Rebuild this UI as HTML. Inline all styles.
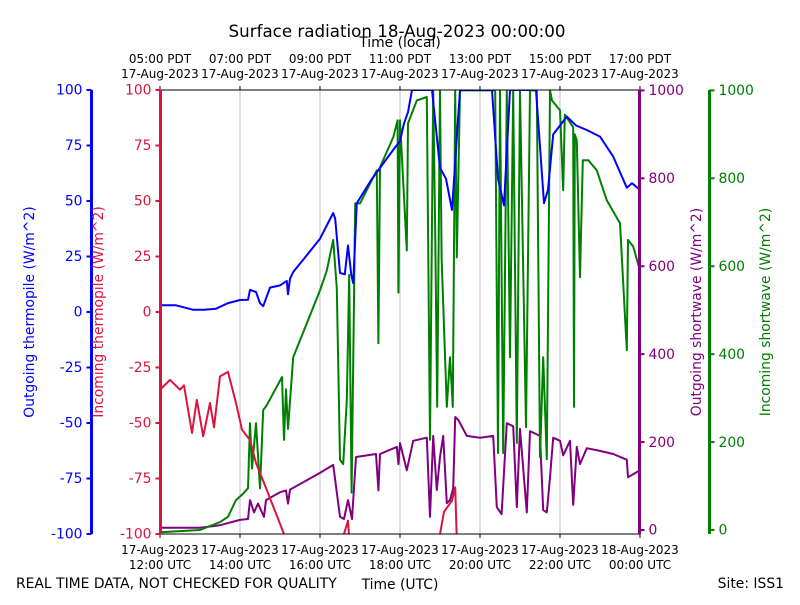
<!DOCTYPE html>
<html><head><meta charset="utf-8"><style>
body{margin:0;background:#fff}
svg text{font-family:"DejaVu Sans","Liberation Sans",sans-serif}
</style></head><body>
<svg id="chart" width="800" height="600" viewBox="0 0 800 600" xmlns="http://www.w3.org/2000/svg">
<defs><clipPath id="clip"><rect x="160" y="90" width="480" height="444"/></clipPath></defs>
<rect width="800" height="600" fill="#fff"/>
<g id="grid"></g>
<g id="series" clip-path="url(#clip)"></g>
<g id="axes"></g>
<text x="397" y="37" font-size="16.7" text-anchor="middle">Surface radiation 18-Aug-2023 00:00:00</text>
<text x="400" y="47" font-size="13.9" text-anchor="middle">Time (local)</text>
<text x="400" y="589" font-size="13.9" text-anchor="middle">Time (UTC)</text>
<text x="16" y="588" font-size="13.9">REAL TIME DATA, NOT CHECKED FOR QUALITY</text>
<text x="784" y="588" font-size="13.9" text-anchor="end">Site: ISS1</text>
</svg>
<script>
const utcTicks=[["17-Aug-2023","12:00 UTC"],["17-Aug-2023","14:00 UTC"],["17-Aug-2023","16:00 UTC"],["17-Aug-2023","18:00 UTC"],["17-Aug-2023","20:00 UTC"],["17-Aug-2023","22:00 UTC"],["18-Aug-2023","00:00 UTC"]];
const localTicks=[["05:00 PDT","17-Aug-2023"],["07:00 PDT","17-Aug-2023"],["09:00 PDT","17-Aug-2023"],["11:00 PDT","17-Aug-2023"],["13:00 PDT","17-Aug-2023"],["15:00 PDT","17-Aug-2023"],["17:00 PDT","17-Aug-2023"]];
const tickHours=[0,2,4,6,8,10,12];
const thermoTicks=[100,75,50,25,0,-25,-50,-75,-100];
const swTicks=[0,200,400,600,800,1000];

const blueT=[0,0.4,0.83,1.1,1.4,1.7,2,2.2,2.25,2.4,2.5,2.58,2.75,3.0,3.17,3.2,3.25,3.33,3.6,4.0,4.33,4.38,4.5,4.62,4.7,4.78,4.83,4.92,5.3,5.83,6,6.1,6.2,6.3,6.6,6.8,7.0,7.15,7.3,7.5,8.3,8.45,8.6,8.75,9.4,9.6,9.7,9.83,10.17,10.4,10.67,11,11.33,11.67,11.8,12];
const blueV=[3,3,1,1,1.5,4,5.4,5.5,10,9,4,2.6,11,12,14,8,15,18,24,33,44.6,42,17.6,17,30,17,13,49,60,73,77,85,90,100,100,100,65,60,46,100,100,60,48,100,100,49,55,80,88,84,82,79,70,56,58,55];

const redT=[0,0.25,0.5,0.6,0.8,0.92,1.08,1.25,1.35,1.5,1.7,1.9,2.05,2.25,2.4,2.6,3.1,3.2,4.5,4.6,4.7,4.8,6.9,7.0,7.1,7.3,7.38,7.45,12];
const redV=[-35,-30.6,-35,-33,-54.5,-39.6,-56,-41,-52,-29,-27,-41,-53,-57.7,-68,-77,-100,-120,-120,-100,-94,-120,-120,-100,-90,-85,-79,-120,-120];

const greenT=[0,1,1.5,1.7,1.9,2.05,2.2,2.25,2.3,2.4,2.5,2.58,2.67,3.05,3.1,3.15,3.2,3.33,4,4.17,4.33,4.42,4.5,4.58,4.67,4.73,4.79,4.88,5,5.42,5.46,5.5,5.83,5.94,5.96,6,6.17,6.2,6.42,6.67,6.75,6.83,6.88,6.93,7,7.04,7.17,7.25,7.32,7.38,7.42,7.5,8.38,8.45,8.5,8.58,8.67,8.75,8.83,8.92,9,9.15,9.25,9.42,9.5,9.58,9.67,9.75,9.8,10,10.08,10.12,10.33,10.35,10.37,10.42,10.5,10.57,10.71,10.92,11.17,11.5,11.67,11.7,11.83,12];
const greenV=[-5,0,18,30,68,80,95,243,140,243,95,273,284,348,205,320,230,393,545,590,660,550,160,150,295,580,85,743,743,818,425,825,893,932,540,932,636,925,977,985,205,1000,680,280,1000,620,280,393,280,1000,620,1000,1000,175,1000,175,1000,393,1000,198,1000,234,1000,1000,166,393,161,1000,977,955,773,945,916,280,900,886,575,841,841,818,750,698,409,660,645,590];

const purpleT=[0,1,1.5,2,2.2,2.25,2.35,2.45,2.6,2.65,3,3.15,3.2,3.25,4,4.33,4.5,4.6,4.7,4.8,4.9,5.4,5.46,5.5,5.92,5.96,6,6.17,6.33,6.67,6.75,6.83,6.92,7,7.08,7.17,7.25,7.33,7.38,7.46,7.67,8,8.33,8.42,8.54,8.67,8.83,8.92,9,9.17,9.25,9.5,9.58,9.67,9.75,9.83,10,10.08,10.25,10.33,10.42,10.5,10.67,11,11.33,11.67,11.7,12];
const purpleV=[5,5,11,23,25,68,40,60,30,68,86,90,60,92,130,148,30,25,68,25,166,173,90,173,189,150,198,136,203,210,30,214,91,166,214,61,68,95,257,250,214,210,214,52,36,243,236,52,230,40,225,214,45,40,120,210,203,170,203,57,189,150,186,180,173,160,120,136];

const X=t=>160+t*40;
const Yth=v=>90+(100-v)*2.22;
const Ysw=v=>534.4-(v+10)*(444/1010);
const NS="http://www.w3.org/2000/svg";
function mk(tag,attrs,parent){const e=document.createElementNS(NS,tag);for(const k in attrs)e.setAttribute(k,attrs[k]);parent.appendChild(e);return e;}
const grid=document.getElementById('grid'),series=document.getElementById('series'),axes=document.getElementById('axes');

tickHours.forEach((h,i)=>{
  if(i>0&&i<6){const g=mk('line',{x1:X(h),x2:X(h),y1:90,y2:534,stroke:'#b0b0b0','stroke-width':0.8},grid);
  
  }
  const tb=mk('line',{x1:X(h),x2:X(h),y1:534,y2:538,stroke:'#000'},axes);
  
  
  const tt=mk('line',{x1:X(h),x2:X(h),y1:86,y2:90,stroke:'#000'},axes);
  
  
  for(let r=0;r<2;r++){
    const b=mk('text',{x:X(h),y:554+r*15,'font-size':12,'text-anchor':'middle'},axes);b.textContent=utcTicks[i][r];
    
    
    const t=mk('text',{x:X(h),y:63+r*15,'font-size':12,'text-anchor':'middle'},axes);t.textContent=localTicks[i][r];
    
    
  }
});

function path(T,V,Y,color,name){
  let d='';T.forEach((t,i)=>{d+=(i?'L':'M')+X(t).toFixed(1)+','+Y(V[i]).toFixed(1);});
  const p=mk('path',{d:d,fill:'none',stroke:color,'stroke-width':2,'stroke-linejoin':'round'},series);
  
  
}
path(purpleT,purpleV,Ysw,'#800080','outgoing-shortwave-line');
path(greenT,greenV,Ysw,'#008000','incoming-shortwave-line');
path(redT,redV,Yth,'#dc143c','incoming-thermopile-line');
path(blueT,blueV,Yth,'#0000ff','outgoing-thermopile-line');

const ft=mk('line',{x1:160,x2:640,y1:90,y2:90,stroke:'#000','stroke-width':1},axes);


const fb=mk('line',{x1:160,x2:640,y1:534,y2:534,stroke:'#000','stroke-width':1},axes);



function vaxis(x,ticks,Y,color,side,name,title,tx){
  const s=mk('line',{x1:x,x2:x,y1:90,y2:534,stroke:color,'stroke-width':3},axes);
  
  
  ticks.forEach(v=>{
    const y=Y(v);
    const tk=mk('line',{x1:x,x2:x+side*5,y1:y,y2:y,stroke:color,'stroke-width':2},axes);
    
    
    const l=mk('text',{x:x+side*9,y:y+4.7,'font-size':13.9,fill:color,'text-anchor':side<0?'end':'start'},axes);
    l.textContent=v;
    
    
  });
  const t=mk('text',{x:tx,y:312,'font-size':13.9,fill:color,'text-anchor':'middle',transform:`rotate(-90 ${tx} 312)`},axes);
  t.textContent=title;
  
  
}
vaxis(91.5,thermoTicks,Yth,'#0000ff',-1,'outgoing-thermopile-axis','Outgoing thermopile (W/m^2)',34);
vaxis(160.5,thermoTicks,Yth,'#dc143c',-1,'incoming-thermopile-axis','Incoming thermopile (W/m^2)',103);
vaxis(639.5,swTicks,Ysw,'#800080',1,'outgoing-shortwave-axis','Outgoing shortwave (W/m^2)',701);
vaxis(709.5,swTicks,Ysw,'#008000',1,'incoming-shortwave-axis','Incoming shortwave (W/m^2)',770);
</script>
</body></html>
